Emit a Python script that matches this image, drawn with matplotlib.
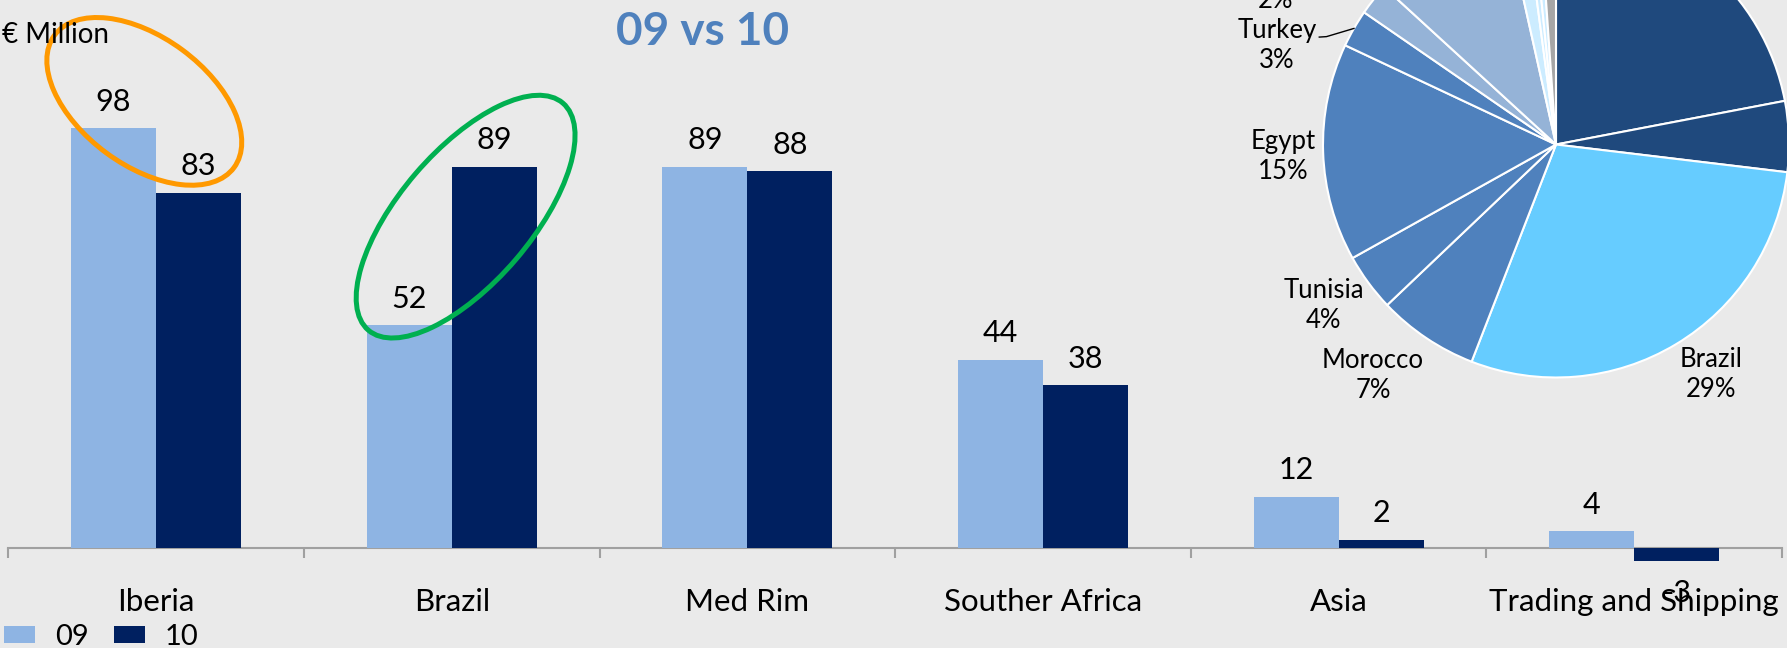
import numpy as np
import matplotlib
matplotlib.use("Agg")
import matplotlib.pyplot as plt
from matplotlib.patches import Ellipse
from matplotlib.transforms import IdentityTransform

# ---- data (EUR million, 2009 vs 2010) ----
categories = ["Iberia", "Brazil", "Med Rim", "Souther Africa", "Asia", "Trading and Shipping"]
values_09 = [98, 52, 89, 44, 12, 4]
values_10 = [83, 89, 88, 38, 2, -3]
series_labels = ["09", "10"]

# pie (share by country), clockwise from 12 o'clock
pie_names = ["", "", "Brazil", "Morocco", "Tunisia", "Egypt", "Turkey", "", "", "", "", "", ""]
pie_values = [22.0, 4.9, 29.0, 7.0, 4.0, 15.1, 2.6, 2.2, 9.7, 1.4, 0.5, 0.5, 1.1]

# ---- styling ----
W, H, DPI = 1787, 648, 100
BG = "#EAEAEA"
C09, C10 = "#8EB4E3", "#002060"
pie_colors = ["#1F497D", "#1F497D", "#66CCFF", "#4F81BD", "#4F81BD", "#4F81BD", "#4F81BD",
              "#95B3D7", "#95B3D7", "#CCECFF", "#CCECFF", "#CCECFF", "#A6A6A6"]

plt.rcParams["font.family"] = ["Lato", "DejaVu Sans"]

fig = plt.figure(figsize=(W / DPI, H / DPI), dpi=DPI, facecolor=BG)

# bar axes: spans whole figure height, baseline 548 px from top
x_left, x_right = 8.3, 1782.0
base_px = 548.3
px_per_unit = 4.285
ax = fig.add_axes([x_left / W, 0, (x_right - x_left) / W, 1])
ax.set_facecolor("none")
ax.set_xlim(-0.5, len(categories) - 0.5)
ax.set_ylim(-(H - base_px) / px_per_unit, base_px / px_per_unit)

x = np.arange(len(categories))
bw = 0.2875
b09 = ax.bar(x - bw / 2, values_09, bw, color=C09, label=series_labels[0], zorder=2)
b10 = ax.bar(x + bw / 2, values_10, bw, color=C10, label=series_labels[1], zorder=2)

for bars, vals in ((b09, values_09), (b10, values_10)):
    for rect, v in zip(bars, vals):
        cx = rect.get_x() + rect.get_width() / 2
        off = 17.5 if v >= 0 else -41
        ax.annotate(str(v), xy=(cx, v), xytext=(0, off), textcoords="offset pixels",
                    ha="center", va="baseline", fontsize=22)

for s in ["top", "right", "left"]:
    ax.spines[s].set_visible(False)
ax.spines["bottom"].set_position(("data", 0))
ax.spines["bottom"].set_color("#A0A0A0")
ax.spines["bottom"].set_linewidth(1.5)
ax.spines["bottom"].set_zorder(1)
ax.set_xticks(np.arange(-0.5, len(categories), 1.0), labels=[])
ax.tick_params(axis="x", length=7.2, width=1.5, color="#A0A0A0", direction="out")
ax.set_yticks([])

for i, cat in enumerate(categories):
    ax.annotate(cat, xy=(i, 0), xytext=(0, -62.4), textcoords="offset pixels",
                ha="center", va="baseline", fontsize=22.5)

# highlight rings (anchored on data, shape in pixels)
def ring(xd, yd, w, h, angle, color):
    cx, cy = ax.transData.transform((xd, yd))
    e = Ellipse((cx, cy), w, h, angle=angle, transform=IdentityTransform(),
                fill=False, edgecolor=color, linewidth=3.6, zorder=5)
    ax.add_artist(e)

ring(-0.04, 104.3, 223, 128, -36.4, "#FF9900")
ring(1.047, 77.4, 299, 132, 49.4, "#00B050")

# titles
fig.text(702.5 / W, 1 - 45 / H, "09 vs 10", ha="center", va="baseline",
         fontsize=33, fontweight="bold", color="#4F81BD")
fig.text(2 / W, 1 - 43.3 / H, "€ Million", ha="left", va="baseline", fontsize=20)

# legend
fig.legend(handles=[b09, b10], labels=series_labels, loc="lower left",
           bbox_to_anchor=(4 / W, -2 / H), ncol=2, frameon=False, fontsize=21,
           handlelength=1.06, handleheight=0.51, handletextpad=0.68,
           columnspacing=0.86, borderpad=0, borderaxespad=0)

# ---- pie, partly cropped at top/right ----
pc_x, pc_y, r = 1556.0, 144.5, 233.0
axp = fig.add_axes([(pc_x - r) / W, (H - pc_y - r) / H, 2 * r / W, 2 * r / H])
axp.pie(pie_values, colors=pie_colors, startangle=90, counterclock=False,
        wedgeprops=dict(edgecolor="white", linewidth=1.5))
axp.set_aspect("auto")
axp.set_xlim(-1, 1)
axp.set_ylim(-1, 1)
axp.set_facecolor("none")

total = sum(pie_values)
pct = [f"{round(v / total * 100)}%" for v in pie_values]
label_pos = {
    "Brazil": (0.665, -0.985),
    "Morocco": (-0.785, -0.991),
    "Tunisia": (-0.998, -0.693),
    "Egypt": (-1.171, -0.05),
    "Turkey": (-1.197, 0.425),
}
for name, p in zip(pie_names, pct):
    if name in label_pos:
        lx, ly = label_pos[name]
        axp.text(lx, ly, f"{name}\n{p}", ha="center", va="center", fontsize=18.5,
                 linespacing=1.25)
# small slice whose label is mostly off the top edge
axp.text(-1.206, 0.586, pct[7], ha="center", va="baseline", fontsize=18.5)

# leader line for Turkey
k = pie_names.index("Turkey")
cum = sum(pie_values[:k]) + pie_values[k] / 2
ang = np.deg2rad(90 - 360 * cum / total)
axp.plot([-1.016, -0.985, np.cos(ang)], [0.461, 0.463, np.sin(ang)],
         color="black", linewidth=1.0, clip_on=False)

fig.savefig("out.png", dpi=DPI, facecolor=fig.get_facecolor())
